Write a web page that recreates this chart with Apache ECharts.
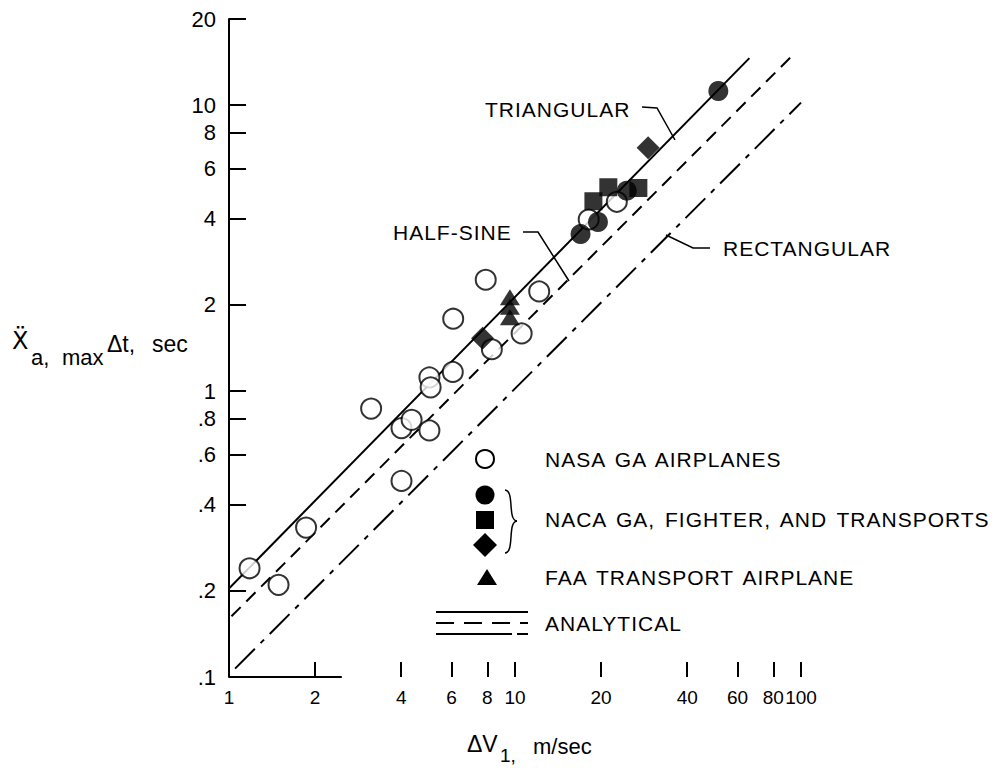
<!DOCTYPE html>
<html><head><meta charset="utf-8">
<script src="https://cdn.jsdelivr.net/npm/echarts@6/dist/echarts.min.js"></script>
<style>html,body{margin:0;padding:0;background:#fff}#c{width:997px;height:768px}
#c text[style*="21px"]{letter-spacing:1px;word-spacing:3px}</style>
</head><body><div id="c"></div>
<script>
// ---- data ----
const xTicks = [1, 2, 4, 6, 8, 10, 20, 40, 60, 80, 100];
const xTickLabels = ['1', '2', '4', '6', '8', '10', '20', '40', '60', '80', '100'];
const yTicks = [0.1, 0.2, 0.4, 0.6, 0.8, 1, 2, 4, 6, 8, 10, 20];
const yTickLabels = ['.1', '.2', '.4', '.6', '.8', '1', '2', '4', '6', '8', '10', '20'];

const nasaGA = [[1.18, 0.240], [1.49, 0.210], [1.86, 0.333], [3.14, 0.868], [4.01, 0.742], [4.35, 0.793],
  [5.02, 0.728], [4.01, 0.485], [5.02, 1.116], [5.07, 1.03], [6.06, 1.166], [6.08, 1.79], [7.9, 2.45],
  [8.3, 1.40], [10.55, 1.59], [12.15, 2.23], [18.1, 3.98], [22.7, 4.59]];
const nacaCircle = [[16.95, 3.54], [19.5, 3.90], [24.6, 5.02], [51.4, 11.2]];
const nacaSquare = [[18.8, 4.61], [21.2, 5.16], [27.0, 5.13]];
const nacaDiamond = [[7.7, 1.53], [29.2, 7.09]];
const faaTriangle = [[9.6, 2.13], [9.6, 1.97], [9.6, 1.81]];

const triangular = [[1, 0.204], [66, 14.6]];
const halfSine = [[1.02, 0.163], [92, 14.7]];
const rectangular = [[1.05, 0.107], [100, 10.2]];
const xAxisStub = [[1, 0.1], [2.48, 0.1]];

// ---- chart ----
const FONT = '"Liberation Sans", Arial, sans-serif';
const chart = echarts.init(document.getElementById('c'), null, {renderer: 'svg'});

function lab(ticks, labels) {
  return function (v) {
    for (let i = 0; i < ticks.length; i++) {
      if (Math.abs(ticks[i] - v) / ticks[i] < 1e-4) return labels[i];
    }
    return '';
  };
}

// the last x tick ("100") sits on its own axis so that ECharts does not drop "80" as overlapping
const xTicksA = xTicks.slice(0, -1);
const xTicksB = xTicks.slice(-1);
function xAxisDef(ticks) {
  return {
    type: 'log', logBase: 10, min: 1, max: 100, gridIndex: 0, position: 'bottom',
    axisLine: {show: false},
    axisTick: {show: true, inside: true, length: 15, customValues: ticks, lineStyle: {color: '#000', width: 2}},
    axisLabel: {show: true, customValues: ticks, formatter: lab(xTicks, xTickLabels), margin: 11,
      color: '#000', fontSize: 19, fontFamily: FONT, hideOverlap: false},
    splitLine: {show: false}, minorTick: {show: false}
  };
}

const scatterBase = {type: 'scatter', z: 5, emphasis: {disabled: true}};
const T = (x, y, text, size, fam) => ({type: 'text', x: x, y: y, style: {text: text, font: size + 'px ' + (fam || FONT), fill: '#000',
  textAlign: 'left', textVerticalAlign: 'middle', align: 'left', verticalAlign: 'middle'}});

chart.setOption({
  animation: false,
  backgroundColor: '#fff',
  grid: {left: 229, right: 196, top: 19, bottom: 91, containLabel: false},
  xAxis: [xAxisDef(xTicksA), xAxisDef(xTicksB)],
  yAxis: {
    type: 'log', logBase: 10, min: 0.1, max: 20,
    axisLine: {show: true, lineStyle: {color: '#000', width: 2}},
    axisTick: {show: true, inside: true, length: 17, customValues: yTicks, lineStyle: {color: '#000', width: 2}},
    axisLabel: {show: true, customValues: yTicks, formatter: lab(yTicks, yTickLabels), margin: 13, showMaxLabel: true,
      color: '#000', fontSize: 22, fontFamily: FONT, hideOverlap: false},
    splitLine: {show: false}, minorTick: {show: false}
  },
  series: [
    {type: 'line', data: xAxisStub, symbol: 'none', lineStyle: {color: '#000', width: 2}, silent: true},
    {name: 'TRIANGULAR', type: 'line', data: triangular, symbol: 'none', lineStyle: {color: '#000', width: 2}},
    {name: 'HALF-SINE', type: 'line', data: halfSine, symbol: 'none', lineStyle: {color: '#000', width: 2, type: [13, 8]}},
    {name: 'RECTANGULAR', type: 'line', data: rectangular, symbol: 'none', lineStyle: {color: '#000', width: 2, type: [28, 8, 5, 8]}},
    Object.assign({}, scatterBase, {name: 'NASA GA AIRPLANES', data: nasaGA, symbol: 'circle', symbolSize: 20,
      itemStyle: {color: '#fff', borderColor: '#000', borderWidth: 2}}),
    Object.assign({}, scatterBase, {name: 'NACA circle', data: nacaCircle, symbol: 'circle', symbolSize: 20,
      itemStyle: {color: '#000'}}),
    Object.assign({}, scatterBase, {name: 'NACA square', data: nacaSquare, symbol: 'rect', symbolSize: 18,
      itemStyle: {color: '#000'}}),
    Object.assign({}, scatterBase, {name: 'NACA diamond', data: nacaDiamond, symbol: 'diamond', symbolSize: 23,
      itemStyle: {color: '#000'}}),
    Object.assign({}, scatterBase, {name: 'FAA TRANSPORT AIRPLANE', data: faaTriangle, symbol: 'triangle', symbolSize: [20, 16],
      itemStyle: {color: '#000'}})
  ],
  graphic: [
    // curve labels and leaders
    T(485, 109, 'TRIANGULAR', 21),
    {type: 'polyline', shape: {points: [[642, 107], [657, 108], [675, 140]]}, style: {stroke: '#000', lineWidth: 1.5, fill: null}},
    T(393, 232, 'HALF-SINE', 21),
    {type: 'polyline', shape: {points: [[523, 232], [538, 232], [569, 281]]}, style: {stroke: '#000', lineWidth: 1.5, fill: null}},
    T(723, 248, 'RECTANGULAR', 21),
    {type: 'polyline', shape: {points: [[710, 248], [693, 248], [666, 235]]}, style: {stroke: '#000', lineWidth: 1.5, fill: null}},
    // legend
    {type: 'circle', shape: {cx: 485, cy: 459, r: 9}, style: {fill: '#fff', stroke: '#000', lineWidth: 2}},
    T(545, 459, 'NASA GA AIRPLANES', 21),
    {type: 'circle', shape: {cx: 485, cy: 495, r: 9.5}, style: {fill: '#000'}},
    {type: 'rect', shape: {x: 476, y: 511, width: 18, height: 18}, style: {fill: '#000'}},
    {type: 'polygon', shape: {points: [[485, 533], [497, 545], [485, 557], [473, 545]]}, style: {fill: '#000'}},
    {type: 'bezierCurve', shape: {x1: 505, y1: 490, cpx1: 515, cpy1: 491, cpx2: 507, cpy2: 520, x2: 517, y2: 521}, style: {stroke: '#000', lineWidth: 1.5, fill: null}},
    {type: 'bezierCurve', shape: {x1: 517, y1: 521, cpx1: 507, cpy1: 522, cpx2: 515, cpy2: 552, x2: 505, y2: 553}, style: {stroke: '#000', lineWidth: 1.5, fill: null}},
    T(545, 519, 'NACA GA, FIGHTER, AND TRANSPORTS', 21),
    {type: 'polygon', shape: {points: [[487, 569], [497, 585], [477, 585]]}, style: {fill: '#000'}},
    T(545, 577, 'FAA TRANSPORT AIRPLANE', 21),
    {type: 'line', shape: {x1: 436, y1: 612, x2: 528, y2: 612}, style: {stroke: '#000', lineWidth: 2}},
    {type: 'line', shape: {x1: 436, y1: 623, x2: 528, y2: 623}, style: {stroke: '#000', lineWidth: 2, lineDash: [18, 10]}},
    {type: 'line', shape: {x1: 436, y1: 634, x2: 528, y2: 634}, style: {stroke: '#000', lineWidth: 2, lineDash: [76, 5, 11, 5]}},
    T(545, 623, 'ANALYTICAL', 21),
    // axis titles
    T(12, 341, 'Ẍ', 24, '"DejaVu Sans", ' + FONT),
    T(31, 357, 'a,', 22),
    T(62, 357, 'max', 22),
    T(107, 344, 'Δt,', 23),
    T(152, 344, 'sec', 23),
    T(467, 744, 'ΔV', 23),
    T(500, 755, '1,', 19),
    T(533, 746, 'm/sec', 22)
  ]
});
</script>
</body></html>
